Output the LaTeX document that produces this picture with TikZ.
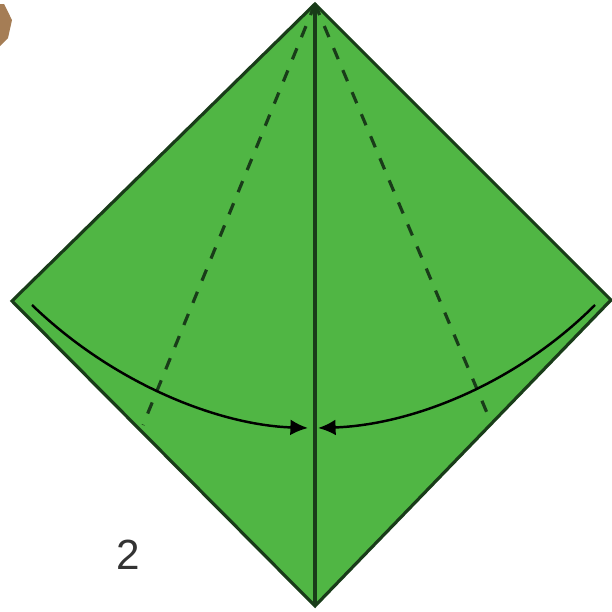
\documentclass[tikz,border=0pt]{standalone}
\usepackage{fontspec}
\setsansfont{Liberation Sans}
\usetikzlibrary{arrows.meta}
\definecolor{leafgreen}{RGB}{80,182,68}
\definecolor{edgegreen}{RGB}{25,60,25}
\definecolor{scrapbrown}{RGB}{165,125,85}
\tikzset{
    foldline/.style={edgegreen, line width=0.9pt},
    valleyfold/.style={edgegreen, line width=0.9pt, dash pattern=on 3.4pt off 3.4pt},
    foldarrow/.style={black, line width=0.7pt, -{Latex[length=5pt,width=4.5pt]}}
}
\begin{document}
\begin{tikzpicture}[x=0.01cm, y=-0.01cm]
        \useasboundingbox (0,0) rectangle (611,612);
        % Scrap of the previous figure
        \fill[scrapbrown] (0,4) -- (4,4) -- (12,20) -- (8,38) -- (0,46) -- cycle;

        % Paper square (diamond)
        \coordinate (top) at (315,4);
        \coordinate (left) at (12,301);
        \coordinate (right) at (611,300);
        \coordinate (bottom) at (315,606);
        \fill[leafgreen] (top) -- (right) -- (bottom) -- (left) -- cycle;
        \draw[foldline, line join=miter] (top) -- (right) -- (bottom) -- (left) -- cycle;

        % Centre crease
        \draw[foldline] (top) -- (bottom);

        % Valley folds
        \coordinate (dl) at (143,425);
        \coordinate (dr) at (490,420);
        \draw[valleyfold] (top) -- (dl);
        \draw[valleyfold] (top) -- (dr);

        % Fold arrows
        \coordinate (al0) at (32,305);
        \coordinate (al1) at (308,428);
        \coordinate (ar0) at (595,305);
        \coordinate (ar1) at (318,428);
        \draw[foldarrow] (al0) .. controls (115,385) and (220,425) .. (al1);
        \draw[foldarrow] (ar0) .. controls (515,385) and (410,425) .. (ar1);

        \node[text=black!80, font=\sffamily\fontsize{12}{14}\selectfont] (step) at (128,555) {2};
    \end{tikzpicture}
\end{document}
